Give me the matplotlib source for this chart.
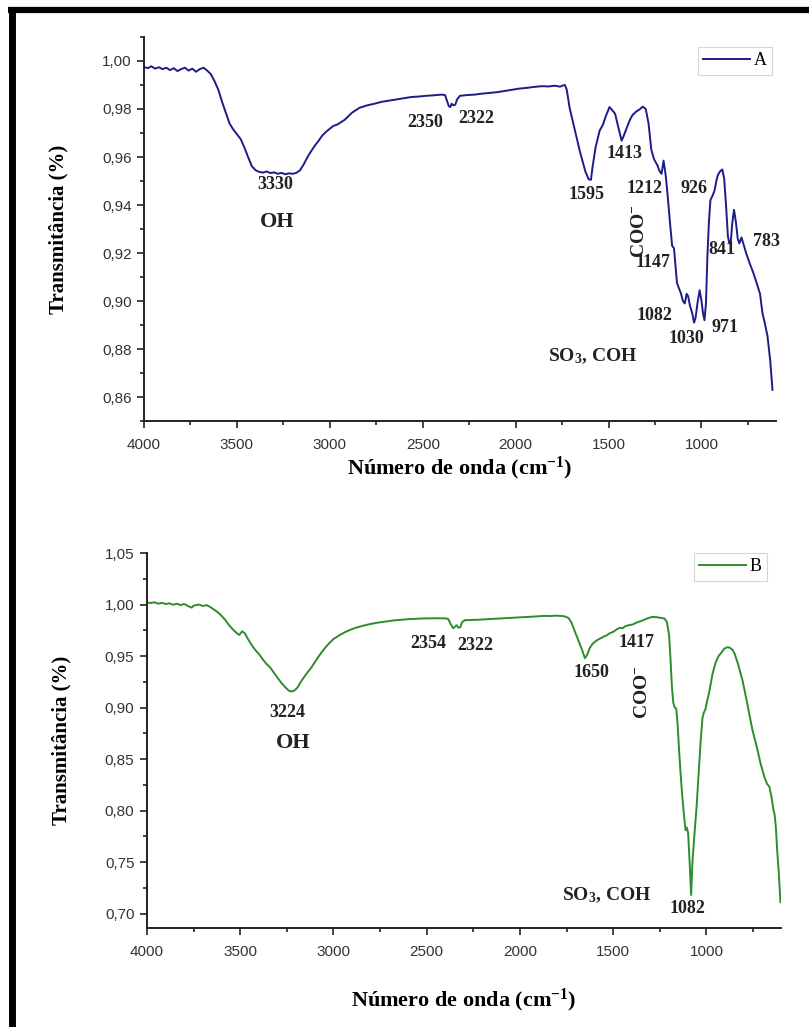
import numpy as np
import matplotlib
matplotlib.use("Agg")
import matplotlib.pyplot as plt
from matplotlib.ticker import MultipleLocator, FuncFormatter
from matplotlib.lines import Line2D

plt.rcParams['mathtext.fontset'] = 'custom'
plt.rcParams['mathtext.rm'] = 'Liberation Serif:bold'
plt.rcParams['mathtext.bf'] = 'Liberation Serif:bold'
plt.rcParams['mathtext.default'] = 'bf'

## Spectrum A (wavenumber, transmittance)
wn_A = [4000, 3980, 3960, 3940, 3920, 3900, 3880, 3860, 3840, 3820, 3800, 3780, 3760, 3740, 3720,
        3700, 3680, 3660, 3640, 3620, 3600, 3580, 3560, 3540, 3520, 3500, 3480, 3460, 3440, 3420,
        3400, 3380, 3360, 3340, 3320, 3300, 3280, 3260, 3240, 3220, 3200, 3180, 3160, 3140, 3120,
        3100, 3080, 3060, 3040, 3020, 3000, 2980, 2960, 2940, 2920, 2900, 2880, 2860, 2840, 2800,
        2760, 2720, 2680, 2640, 2600, 2560, 2520, 2480, 2440, 2400, 2380, 2370, 2360, 2352, 2345,
        2335, 2325, 2315, 2300, 2260, 2220, 2180, 2140, 2100, 2060, 2020, 1980, 1940, 1900, 1860,
        1820, 1790, 1760, 1745, 1735, 1725, 1710, 1690, 1672, 1655, 1640, 1625, 1607, 1595, 1586,
        1570, 1548, 1530, 1515, 1495, 1480, 1465, 1452, 1440, 1430, 1420, 1403, 1385, 1371, 1350,
        1330, 1317, 1300, 1285, 1270, 1255, 1237, 1225, 1215, 1204, 1192, 1180, 1170, 1158, 1148,
        1140, 1132, 1120, 1110, 1100, 1090, 1080, 1072, 1062, 1050, 1040, 1032, 1020, 1010, 1000,
        992, 984, 976, 968, 960, 952, 940, 930, 920, 912, 900, 888, 878, 868, 858,
        850, 842, 835, 825, 815, 805, 796, 785, 775, 760, 742, 720, 699, 685, 672,
        660, 645, 630, 618]
tr_A = [0.9975, 0.9970, 0.9978, 0.9968, 0.9974, 0.9966, 0.9972, 0.9962, 0.9970, 0.9958, 0.9966, 0.9972, 0.9960, 0.9968, 0.9955,
        0.9966, 0.9972, 0.9960, 0.9945, 0.9915, 0.9880, 0.9830, 0.9785, 0.9740, 0.9715, 0.9695, 0.9675, 0.9640, 0.9600, 0.9562,
        0.9545, 0.9538, 0.9535, 0.9540, 0.9533, 0.9536, 0.9530, 0.9534, 0.9528, 0.9532, 0.9530, 0.9534, 0.9545, 0.9570, 0.9600,
        0.9625, 0.9648, 0.9668, 0.9690, 0.9705, 0.9718, 0.9730, 0.9735, 0.9745, 0.9755, 0.9770, 0.9785, 0.9795, 0.9805, 0.9815,
        0.9822, 0.9830, 0.9835, 0.9840, 0.9845, 0.9850, 0.9852, 0.9855, 0.9857, 0.9860, 0.9858, 0.9835, 0.9812, 0.9808, 0.9822,
        0.9815, 0.9818, 0.9840, 0.9855, 0.9858, 0.9860, 0.9864, 0.9867, 0.9870, 0.9875, 0.9880, 0.9885, 0.9888, 0.9892, 0.9895,
        0.9894, 0.9897, 0.9893, 0.9898, 0.9900, 0.9880, 0.9806, 0.9740, 0.9680, 0.9625, 0.9583, 0.9540, 0.9507, 0.9505, 0.9560,
        0.9640, 0.9710, 0.9735, 0.9770, 0.9808, 0.9795, 0.9780, 0.9739, 0.9700, 0.9668, 0.9685, 0.9720, 0.9755, 0.9775, 0.9790,
        0.9800, 0.9810, 0.9800, 0.9740, 0.9630, 0.9590, 0.9565, 0.9540, 0.9530, 0.9585, 0.9520, 0.9420, 0.9330, 0.9230, 0.9220,
        0.9150, 0.9075, 0.9050, 0.9030, 0.9000, 0.8990, 0.9030, 0.9020, 0.8980, 0.8950, 0.8910, 0.8930, 0.9000, 0.9045, 0.9000,
        0.8950, 0.8920, 0.8990, 0.9190, 0.9330, 0.9420, 0.9440, 0.9460, 0.9500, 0.9525, 0.9540, 0.9548, 0.9510, 0.9400, 0.9270,
        0.9240, 0.9250, 0.9320, 0.9380, 0.9330, 0.9260, 0.9240, 0.9265, 0.9240, 0.9200, 0.9160, 0.9115, 0.9065, 0.9030, 0.8950,
        0.8910, 0.8855, 0.8750, 0.8630]

## Spectrum B
wn_B = [4000, 3980, 3960, 3940, 3920, 3900, 3880, 3860, 3840, 3820, 3800, 3780, 3760, 3750, 3720,
        3700, 3680, 3660, 3640, 3620, 3600, 3580, 3560, 3540, 3520, 3505, 3490, 3475, 3460, 3440,
        3420, 3400, 3380, 3360, 3340, 3320, 3300, 3280, 3260, 3240, 3225, 3210, 3195, 3180, 3160,
        3140, 3120, 3100, 3080, 3060, 3040, 3020, 3000, 2970, 2940, 2910, 2880, 2840, 2800, 2760,
        2720, 2680, 2640, 2600, 2560, 2520, 2480, 2440, 2400, 2385, 2370, 2358, 2348, 2340, 2330,
        2320, 2310, 2295, 2260, 2220, 2180, 2140, 2100, 2060, 2020, 1980, 1940, 1900, 1870, 1840,
        1810, 1780, 1760, 1740, 1725, 1710, 1695, 1680, 1665, 1652, 1640, 1625, 1610, 1590, 1570,
        1550, 1535, 1520, 1500, 1480, 1465, 1450, 1435, 1415, 1396, 1375, 1350, 1330, 1310, 1290,
        1270, 1250, 1235, 1224, 1212, 1200, 1192, 1185, 1178, 1170, 1162, 1155, 1147, 1140, 1130,
        1120, 1112, 1105, 1098, 1090, 1082, 1075, 1065, 1053, 1040, 1030, 1021, 1014, 1006, 998,
        985, 967, 950, 935, 919, 905, 890, 875, 860, 849, 830, 806, 780, 753, 730,
        710, 690, 675, 662, 650, 640, 635, 628, 620, 612, 603]
tr_B = [1.0020, 1.0015, 1.0022, 1.0008, 1.0016, 1.0005, 1.0012, 0.9998, 1.0008, 0.9995, 1.0005, 0.9985, 0.9970, 0.9990, 1.0000,
        0.9985, 0.9995, 0.9975, 0.9950, 0.9925, 0.9890, 0.9850, 0.9800, 0.9760, 0.9725, 0.9705, 0.9740, 0.9720, 0.9670, 0.9610,
        0.9560, 0.9520, 0.9470, 0.9425, 0.9390, 0.9340, 0.9290, 0.9240, 0.9200, 0.9165, 0.9155, 0.9165, 0.9190, 0.9235, 0.9290,
        0.9340, 0.9385, 0.9440, 0.9495, 0.9545, 0.9590, 0.9630, 0.9665, 0.9700, 0.9730, 0.9755, 0.9775, 0.9795, 0.9812, 0.9825,
        0.9835, 0.9845, 0.9852, 0.9858, 0.9862, 0.9865, 0.9866, 0.9867, 0.9866, 0.9860, 0.9805, 0.9770, 0.9785, 0.9800, 0.9775,
        0.9780, 0.9830, 0.9848, 0.9850, 0.9853, 0.9857, 0.9860, 0.9865, 0.9868, 0.9872, 0.9878, 0.9882, 0.9886, 0.9890, 0.9888,
        0.9892, 0.9890, 0.9885, 0.9870, 0.9830, 0.9760, 0.9690, 0.9620, 0.9550, 0.9480, 0.9510, 0.9580, 0.9620, 0.9650, 0.9670,
        0.9690, 0.9700, 0.9720, 0.9735, 0.9760, 0.9775, 0.9770, 0.9790, 0.9800, 0.9806, 0.9825, 0.9840, 0.9855, 0.9870, 0.9880,
        0.9878, 0.9872, 0.9868, 0.9862, 0.9830, 0.9700, 0.9450, 0.9200, 0.9050, 0.9000, 0.8990, 0.8850, 0.8600, 0.8400, 0.8150,
        0.7950, 0.7810, 0.7835, 0.7780, 0.7500, 0.7180, 0.7500, 0.7750, 0.8030, 0.8400, 0.8700, 0.8900, 0.8950, 0.8980, 0.9050,
        0.9150, 0.9330, 0.9440, 0.9500, 0.9535, 0.9570, 0.9585, 0.9582, 0.9560, 0.9525, 0.9420, 0.9260, 0.9030, 0.8780, 0.8620,
        0.8460, 0.8330, 0.8260, 0.8230, 0.8120, 0.8000, 0.7970, 0.7850, 0.7600, 0.7400, 0.7110]

## Peak labels: (text, x, y, size, rotation)
labels_A = [("3330", 3296, 0.9486, 13, 0), ("OH", 3285, 0.933, 16, 0),
            ("2350", 2489, 0.9743, 13, 0), ("2322", 2210, 0.9760, 13, 0),
            ("1595", 1618, 0.9444, 13, 0), ("1413", 1414, 0.9613, 13, 0),
            ("1212", 1306, 0.9470, 13, 0), ("926", 1038, 0.9470, 13, 0),
            ("COO$^{-}$", 1335, 0.9290, 14, 90), ("1147", 1263, 0.9160, 13, 0),
            ("841", 892, 0.9213, 13, 0), ("783", 651, 0.9250, 13, 0),
            ("1082", 1253, 0.8940, 13, 0), ("1030", 1081, 0.8846, 13, 0),
            ("971", 876, 0.8888, 13, 0), ("SO$_3$, COH", 1586, 0.8770, 14, 0)]
labels_B = [("3224", 3250, 0.895, 13, 0), ("OH", 3218, 0.866, 16, 0),
            ("2354", 2494, 0.962, 13, 0), ("2322", 2242, 0.960, 13, 0),
            ("1650", 1615, 0.934, 13, 0), ("1417", 1374, 0.963, 13, 0),
            ("COO$^{-}$", 1342, 0.915, 14, 90), ("SO$_3$, COH", 1535, 0.718, 14, 0),
            ("1082", 1101, 0.705, 13, 0)]


def comma_fmt(v, pos):
    return '{:.2f}'.format(v).replace('.', ',')


def style_axis(ax, ylim, major, minor, xpad):
    ax.set_xlim(4000, 600)
    ax.set_ylim(*ylim)
    ax.spines['top'].set_visible(False)
    ax.spines['right'].set_visible(False)
    for s in ['left', 'bottom']:
        ax.spines[s].set_linewidth(1.4)
        ax.spines[s].set_color('#222222')
    ax.xaxis.set_major_locator(MultipleLocator(500))
    ax.xaxis.set_minor_locator(MultipleLocator(250))
    ax.yaxis.set_major_locator(MultipleLocator(major))
    ax.yaxis.set_minor_locator(MultipleLocator(minor))
    ax.yaxis.set_major_formatter(FuncFormatter(comma_fmt))
    ax.tick_params(which='major', length=5, width=1.2, color='#222222',
                   labelsize=11, labelcolor='#333333', pad=4)
    ax.tick_params(which='minor', length=3, width=1.2, color='#222222')
    ax.tick_params(axis='x', which='major', pad=7)
    for t in ax.get_xticklabels() + ax.get_yticklabels():
        t.set_family('Liberation Sans')
    ax.set_ylabel('Transmitância (%)', family='Liberation Serif', weight='bold',
                  fontsize=15, labelpad=24)
    ax.set_xlabel('Número de onda (cm$^{-1}$)', family='Liberation Serif',
                  weight='bold', fontsize=16, labelpad=xpad)


fig = plt.figure(figsize=(8.09, 10.27), dpi=100)

axA = fig.add_axes([0.178, 0.590, 0.781, 0.374])
axA.plot(wn_A, tr_A, color='#1c1c8a', lw=1.4, label='A')
style_axis(axA, (0.85, 1.01), 0.02, 0.01, 2)
for txt, x, y, fs, rot in labels_A:
    axA.text(x, y, txt, ha='center', va='center', fontsize=fs, rotation=rot,
             family='Liberation Serif', weight='bold', color='#222222')
legA = axA.legend(loc='upper right', bbox_to_anchor=(0.994, 0.974), borderaxespad=0,
                  frameon=True, fancybox=False, handlelength=2.6, handletextpad=0.2,
                  borderpad=0.3, prop={'family': 'Liberation Serif', 'size': 13})
legA.get_frame().set_edgecolor('#cccccc')
legA.get_frame().set_linewidth(0.8)

axB = fig.add_axes([0.1817, 0.0964, 0.7837, 0.3651])
axB.plot(wn_B, tr_B, color='#2e8b2e', lw=1.4, label='B')
style_axis(axB, (0.686, 1.05), 0.05, 0.025, 20)
for txt, x, y, fs, rot in labels_B:
    axB.text(x, y, txt, ha='center', va='center', fontsize=fs, rotation=rot,
             family='Liberation Serif', weight='bold', color='#222222')
legB = axB.legend(loc='upper right', bbox_to_anchor=(0.978, 1.0), borderaxespad=0,
                  frameon=True, fancybox=False, handlelength=2.6, handletextpad=0.2,
                  borderpad=0.3, prop={'family': 'Liberation Serif', 'size': 13})
legB.get_frame().set_edgecolor('#cccccc')
legB.get_frame().set_linewidth(0.8)

# black frame (left and top)
fig.add_artist(Line2D([11.5 / 809, 11.5 / 809], [0, 1 - 7 / 1027], color='black',
                      lw=5, transform=fig.transFigure, solid_capstyle='butt'))
fig.add_artist(Line2D([8 / 809, 1], [1 - 10 / 1027, 1 - 10 / 1027], color='black',
                      lw=4.5, transform=fig.transFigure, solid_capstyle='butt'))

fig.savefig('out.png', dpi=100)
